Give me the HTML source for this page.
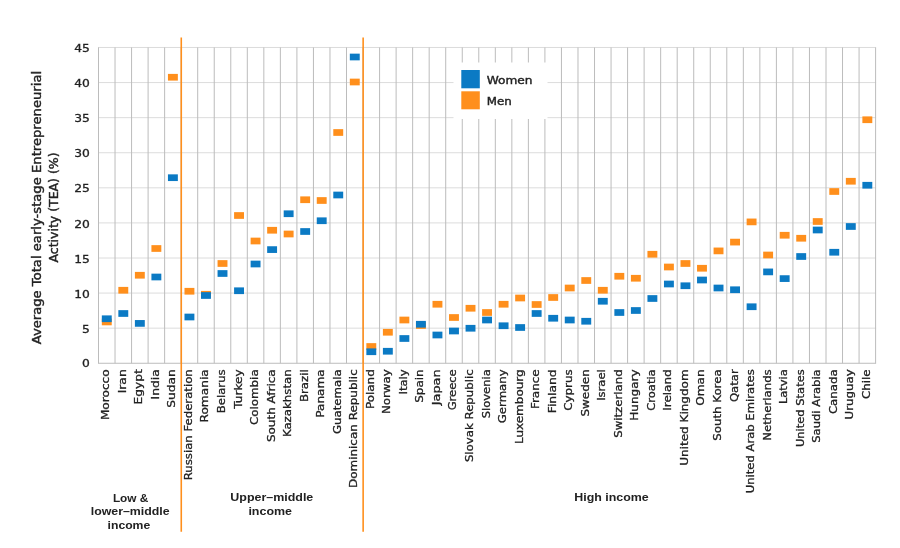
<!DOCTYPE html>
<html lang="en"><head><meta charset="utf-8"><title>TEA by gender</title>
<style>html,body{margin:0;padding:0;background:#fff}body{width:900px;height:548px;overflow:hidden}</style></head>
<body>
<svg width="900" height="548" viewBox="0 0 900 548" style="display:block">
<rect width="900" height="548" fill="#ffffff"/>
<g stroke="#dcdcdc" stroke-width="1" shape-rendering="auto">
<line x1="98.00" x2="876.10" y1="363.25" y2="363.25" stroke="#bcbcbc"/>
<line x1="98.00" x2="876.10" y1="328.17" y2="328.17"/>
<line x1="98.00" x2="876.10" y1="293.08" y2="293.08"/>
<line x1="98.00" x2="876.10" y1="258.00" y2="258.00"/>
<line x1="98.00" x2="876.10" y1="222.91" y2="222.91"/>
<line x1="98.00" x2="876.10" y1="187.82" y2="187.82"/>
<line x1="98.00" x2="876.10" y1="152.74" y2="152.74"/>
<line x1="98.00" x2="876.10" y1="117.66" y2="117.66"/>
<line x1="98.00" x2="876.10" y1="82.57" y2="82.57"/>
<line x1="98.00" x2="876.10" y1="47.48" y2="47.48"/>
</g>
<g stroke="#bcbcbc" stroke-width="1">
<line x1="98.50" x2="98.50" y1="47.48" y2="363.25"/>
<line x1="115.03" x2="115.03" y1="47.48" y2="363.25"/>
<line x1="131.57" x2="131.57" y1="47.48" y2="363.25"/>
<line x1="148.10" x2="148.10" y1="47.48" y2="363.25"/>
<line x1="164.64" x2="164.64" y1="47.48" y2="363.25"/>
<line x1="181.17" x2="181.17" y1="47.48" y2="363.25"/>
<line x1="197.70" x2="197.70" y1="47.48" y2="363.25"/>
<line x1="214.24" x2="214.24" y1="47.48" y2="363.25"/>
<line x1="230.77" x2="230.77" y1="47.48" y2="363.25"/>
<line x1="247.31" x2="247.31" y1="47.48" y2="363.25"/>
<line x1="263.84" x2="263.84" y1="47.48" y2="363.25"/>
<line x1="280.37" x2="280.37" y1="47.48" y2="363.25"/>
<line x1="296.91" x2="296.91" y1="47.48" y2="363.25"/>
<line x1="313.44" x2="313.44" y1="47.48" y2="363.25"/>
<line x1="329.98" x2="329.98" y1="47.48" y2="363.25"/>
<line x1="346.51" x2="346.51" y1="47.48" y2="363.25"/>
<line x1="363.04" x2="363.04" y1="47.48" y2="363.25"/>
<line x1="379.58" x2="379.58" y1="47.48" y2="363.25"/>
<line x1="396.11" x2="396.11" y1="47.48" y2="363.25"/>
<line x1="412.65" x2="412.65" y1="47.48" y2="363.25"/>
<line x1="429.18" x2="429.18" y1="47.48" y2="363.25"/>
<line x1="445.71" x2="445.71" y1="47.48" y2="363.25"/>
<line x1="462.25" x2="462.25" y1="47.48" y2="363.25"/>
<line x1="478.78" x2="478.78" y1="47.48" y2="363.25"/>
<line x1="495.32" x2="495.32" y1="47.48" y2="363.25"/>
<line x1="511.85" x2="511.85" y1="47.48" y2="363.25"/>
<line x1="528.39" x2="528.39" y1="47.48" y2="363.25"/>
<line x1="544.92" x2="544.92" y1="47.48" y2="363.25"/>
<line x1="561.45" x2="561.45" y1="47.48" y2="363.25"/>
<line x1="577.99" x2="577.99" y1="47.48" y2="363.25"/>
<line x1="594.52" x2="594.52" y1="47.48" y2="363.25"/>
<line x1="611.06" x2="611.06" y1="47.48" y2="363.25"/>
<line x1="627.59" x2="627.59" y1="47.48" y2="363.25"/>
<line x1="644.12" x2="644.12" y1="47.48" y2="363.25"/>
<line x1="660.66" x2="660.66" y1="47.48" y2="363.25"/>
<line x1="677.19" x2="677.19" y1="47.48" y2="363.25"/>
<line x1="693.73" x2="693.73" y1="47.48" y2="363.25"/>
<line x1="710.26" x2="710.26" y1="47.48" y2="363.25"/>
<line x1="726.79" x2="726.79" y1="47.48" y2="363.25"/>
<line x1="743.33" x2="743.33" y1="47.48" y2="363.25"/>
<line x1="759.86" x2="759.86" y1="47.48" y2="363.25"/>
<line x1="776.40" x2="776.40" y1="47.48" y2="363.25"/>
<line x1="792.93" x2="792.93" y1="47.48" y2="363.25"/>
<line x1="809.46" x2="809.46" y1="47.48" y2="363.25"/>
<line x1="826.00" x2="826.00" y1="47.48" y2="363.25"/>
<line x1="842.53" x2="842.53" y1="47.48" y2="363.25"/>
<line x1="859.07" x2="859.07" y1="47.48" y2="363.25"/>
<line x1="875.60" x2="875.60" y1="47.48" y2="363.25"/>
</g>
<rect x="453.5" y="62.5" width="94" height="56.5" fill="#ffffff"/>
<rect x="461.3" y="70" width="18.5" height="18.3" fill="#0b7ac4"/>
<rect x="461.3" y="91.3" width="18.5" height="18" fill="#ff8f1c"/>
<g font-family='"DejaVu Sans", "Liberation Sans", sans-serif' font-size="10.9" fill="#222222" stroke="#222222" stroke-width="0.4">
<text x="486.7" y="83.8" textLength="45.8" lengthAdjust="spacingAndGlyphs">Women</text><text x="486.7" y="104.7" textLength="25" lengthAdjust="spacingAndGlyphs">Men</text></g>
<g fill="#ff8f1c">
<rect x="101.82" y="318.60" width="9.9" height="6.7"/>
<rect x="118.35" y="286.90" width="9.9" height="6.7"/>
<rect x="134.89" y="271.90" width="9.9" height="6.7"/>
<rect x="151.42" y="245.15" width="9.9" height="6.7"/>
<rect x="167.95" y="73.90" width="9.9" height="6.7"/>
<rect x="184.49" y="287.90" width="9.9" height="6.7"/>
<rect x="201.02" y="290.90" width="9.9" height="6.7"/>
<rect x="217.56" y="260.15" width="9.9" height="6.7"/>
<rect x="234.09" y="212.15" width="9.9" height="6.7"/>
<rect x="250.62" y="237.65" width="9.9" height="6.7"/>
<rect x="267.16" y="226.90" width="9.9" height="6.7"/>
<rect x="283.69" y="230.65" width="9.9" height="6.7"/>
<rect x="300.23" y="196.40" width="9.9" height="6.7"/>
<rect x="316.76" y="197.15" width="9.9" height="6.7"/>
<rect x="333.29" y="129.15" width="9.9" height="6.7"/>
<rect x="349.83" y="78.65" width="9.9" height="6.7"/>
<rect x="366.36" y="343.15" width="9.9" height="6.7"/>
<rect x="382.90" y="328.90" width="9.9" height="6.7"/>
<rect x="399.43" y="316.65" width="9.9" height="6.7"/>
<rect x="415.96" y="322.15" width="9.9" height="6.7"/>
<rect x="432.50" y="300.90" width="9.9" height="6.7"/>
<rect x="449.03" y="314.15" width="9.9" height="6.7"/>
<rect x="465.57" y="304.90" width="9.9" height="6.7"/>
<rect x="482.10" y="309.15" width="9.9" height="6.7"/>
<rect x="498.63" y="300.90" width="9.9" height="6.7"/>
<rect x="515.17" y="294.65" width="9.9" height="6.7"/>
<rect x="531.70" y="301.15" width="9.9" height="6.7"/>
<rect x="548.24" y="294.15" width="9.9" height="6.7"/>
<rect x="564.77" y="284.65" width="9.9" height="6.7"/>
<rect x="581.30" y="277.15" width="9.9" height="6.7"/>
<rect x="597.84" y="286.90" width="9.9" height="6.7"/>
<rect x="614.37" y="272.90" width="9.9" height="6.7"/>
<rect x="630.91" y="274.90" width="9.9" height="6.7"/>
<rect x="647.44" y="250.90" width="9.9" height="6.7"/>
<rect x="663.97" y="263.65" width="9.9" height="6.7"/>
<rect x="680.51" y="260.15" width="9.9" height="6.7"/>
<rect x="697.04" y="264.90" width="9.9" height="6.7"/>
<rect x="713.58" y="247.55" width="9.9" height="6.7"/>
<rect x="730.11" y="238.75" width="9.9" height="6.7"/>
<rect x="746.64" y="218.55" width="9.9" height="6.7"/>
<rect x="763.18" y="251.65" width="9.9" height="6.7"/>
<rect x="779.71" y="231.90" width="9.9" height="6.7"/>
<rect x="796.25" y="234.90" width="9.9" height="6.7"/>
<rect x="812.78" y="218.15" width="9.9" height="6.7"/>
<rect x="829.31" y="188.15" width="9.9" height="6.7"/>
<rect x="845.85" y="177.90" width="9.9" height="6.7"/>
<rect x="862.38" y="116.40" width="9.9" height="6.7"/>
</g>
<g fill="#0b7ac4">
<rect x="101.82" y="315.40" width="9.9" height="6.7"/>
<rect x="118.35" y="310.15" width="9.9" height="6.7"/>
<rect x="134.89" y="320.05" width="9.9" height="6.7"/>
<rect x="151.42" y="273.65" width="9.9" height="6.7"/>
<rect x="167.95" y="174.35" width="9.9" height="6.7"/>
<rect x="184.49" y="313.65" width="9.9" height="6.7"/>
<rect x="201.02" y="292.15" width="9.9" height="6.7"/>
<rect x="217.56" y="270.15" width="9.9" height="6.7"/>
<rect x="234.09" y="287.40" width="9.9" height="6.7"/>
<rect x="250.62" y="260.65" width="9.9" height="6.7"/>
<rect x="267.16" y="246.25" width="9.9" height="6.7"/>
<rect x="283.69" y="210.40" width="9.9" height="6.7"/>
<rect x="300.23" y="228.15" width="9.9" height="6.7"/>
<rect x="316.76" y="217.40" width="9.9" height="6.7"/>
<rect x="333.29" y="191.65" width="9.9" height="6.7"/>
<rect x="349.83" y="53.65" width="9.9" height="6.7"/>
<rect x="366.36" y="348.40" width="9.9" height="6.7"/>
<rect x="382.90" y="347.90" width="9.9" height="6.7"/>
<rect x="399.43" y="335.15" width="9.9" height="6.7"/>
<rect x="415.96" y="320.90" width="9.9" height="6.7"/>
<rect x="432.50" y="331.65" width="9.9" height="6.7"/>
<rect x="449.03" y="327.65" width="9.9" height="6.7"/>
<rect x="465.57" y="324.90" width="9.9" height="6.7"/>
<rect x="482.10" y="316.65" width="9.9" height="6.7"/>
<rect x="498.63" y="322.40" width="9.9" height="6.7"/>
<rect x="515.17" y="324.15" width="9.9" height="6.7"/>
<rect x="531.70" y="310.15" width="9.9" height="6.7"/>
<rect x="548.24" y="314.90" width="9.9" height="6.7"/>
<rect x="564.77" y="316.65" width="9.9" height="6.7"/>
<rect x="581.30" y="317.90" width="9.9" height="6.7"/>
<rect x="597.84" y="297.90" width="9.9" height="6.7"/>
<rect x="614.37" y="309.15" width="9.9" height="6.7"/>
<rect x="630.91" y="307.15" width="9.9" height="6.7"/>
<rect x="647.44" y="295.15" width="9.9" height="6.7"/>
<rect x="663.97" y="280.65" width="9.9" height="6.7"/>
<rect x="680.51" y="282.40" width="9.9" height="6.7"/>
<rect x="697.04" y="276.65" width="9.9" height="6.7"/>
<rect x="713.58" y="284.65" width="9.9" height="6.7"/>
<rect x="730.11" y="286.40" width="9.9" height="6.7"/>
<rect x="746.64" y="303.40" width="9.9" height="6.7"/>
<rect x="763.18" y="268.55" width="9.9" height="6.7"/>
<rect x="779.71" y="275.25" width="9.9" height="6.7"/>
<rect x="796.25" y="253.15" width="9.9" height="6.7"/>
<rect x="812.78" y="226.65" width="9.9" height="6.7"/>
<rect x="829.31" y="248.90" width="9.9" height="6.7"/>
<rect x="845.85" y="223.15" width="9.9" height="6.7"/>
<rect x="862.38" y="181.90" width="9.9" height="6.7"/>
</g>
<line x1="181.27" x2="181.27" y1="37.6" y2="531.8" stroke="#ff8f1c" stroke-width="1.6"/>
<line x1="363.14" x2="363.14" y1="37.6" y2="531.8" stroke="#ff8f1c" stroke-width="1.6"/>
<g font-family='"DejaVu Sans", "Liberation Sans", sans-serif' font-size="11.1" fill="#222222" stroke="#222222" stroke-width="0.3" text-anchor="end">
<text x="89.8" y="366.55" textLength="7.8" lengthAdjust="spacingAndGlyphs">0</text>
<text x="89.8" y="332.77" textLength="7.8" lengthAdjust="spacingAndGlyphs">5</text>
<text x="89.8" y="297.68" textLength="15.6" lengthAdjust="spacingAndGlyphs">10</text>
<text x="89.8" y="262.60" textLength="15.6" lengthAdjust="spacingAndGlyphs">15</text>
<text x="89.8" y="227.51" textLength="15.6" lengthAdjust="spacingAndGlyphs">20</text>
<text x="89.8" y="192.42" textLength="15.6" lengthAdjust="spacingAndGlyphs">25</text>
<text x="89.8" y="157.34" textLength="15.6" lengthAdjust="spacingAndGlyphs">30</text>
<text x="89.8" y="122.25" textLength="15.6" lengthAdjust="spacingAndGlyphs">35</text>
<text x="89.8" y="87.17" textLength="15.6" lengthAdjust="spacingAndGlyphs">40</text>
<text x="89.8" y="52.08" textLength="15.6" lengthAdjust="spacingAndGlyphs">45</text>
</g>
<g font-family='"DejaVu Sans", "Liberation Sans", sans-serif' font-size="10.8" fill="#222222" stroke="#222222" stroke-width="0.3" text-anchor="end">
<text transform="translate(109.27,369.3) rotate(-90)" textLength="50.8" lengthAdjust="spacingAndGlyphs">Morocco</text>
<text transform="translate(125.80,369.3) rotate(-90)" textLength="24.0" lengthAdjust="spacingAndGlyphs">Iran</text>
<text transform="translate(142.34,369.3) rotate(-90)" textLength="35.2" lengthAdjust="spacingAndGlyphs">Egypt</text>
<text transform="translate(158.87,369.3) rotate(-90)" textLength="30.2" lengthAdjust="spacingAndGlyphs">India</text>
<text transform="translate(175.40,369.3) rotate(-90)" textLength="38.5" lengthAdjust="spacingAndGlyphs">Sudan</text>
<text transform="translate(191.94,369.3) rotate(-90)" textLength="111.0" lengthAdjust="spacingAndGlyphs">Russian Federation</text>
<text transform="translate(208.47,369.3) rotate(-90)" textLength="53.2" lengthAdjust="spacingAndGlyphs">Romania</text>
<text transform="translate(225.01,369.3) rotate(-90)" textLength="44.0" lengthAdjust="spacingAndGlyphs">Belarus</text>
<text transform="translate(241.54,369.3) rotate(-90)" textLength="39.5" lengthAdjust="spacingAndGlyphs">Turkey</text>
<text transform="translate(258.07,369.3) rotate(-90)" textLength="55.8" lengthAdjust="spacingAndGlyphs">Colombia</text>
<text transform="translate(274.61,369.3) rotate(-90)" textLength="72.8" lengthAdjust="spacingAndGlyphs">South Africa</text>
<text transform="translate(291.14,369.3) rotate(-90)" textLength="67.8" lengthAdjust="spacingAndGlyphs">Kazakhstan</text>
<text transform="translate(307.68,369.3) rotate(-90)" textLength="32.8" lengthAdjust="spacingAndGlyphs">Brazil</text>
<text transform="translate(324.21,369.3) rotate(-90)" textLength="48.5" lengthAdjust="spacingAndGlyphs">Panama</text>
<text transform="translate(340.74,369.3) rotate(-90)" textLength="64.8" lengthAdjust="spacingAndGlyphs">Guatemala</text>
<text transform="translate(357.28,369.3) rotate(-90)" textLength="118.7" lengthAdjust="spacingAndGlyphs">Dominican Republic</text>
<text transform="translate(373.81,369.3) rotate(-90)" textLength="39.8" lengthAdjust="spacingAndGlyphs">Poland</text>
<text transform="translate(390.35,369.3) rotate(-90)" textLength="44.8" lengthAdjust="spacingAndGlyphs">Norway</text>
<text transform="translate(406.88,369.3) rotate(-90)" textLength="25.2" lengthAdjust="spacingAndGlyphs">Italy</text>
<text transform="translate(423.41,369.3) rotate(-90)" textLength="33.5" lengthAdjust="spacingAndGlyphs">Spain</text>
<text transform="translate(439.95,369.3) rotate(-90)" textLength="36.0" lengthAdjust="spacingAndGlyphs">Japan</text>
<text transform="translate(456.48,369.3) rotate(-90)" textLength="41.0" lengthAdjust="spacingAndGlyphs">Greece</text>
<text transform="translate(473.02,369.3) rotate(-90)" textLength="92.8" lengthAdjust="spacingAndGlyphs">Slovak Republic</text>
<text transform="translate(489.55,369.3) rotate(-90)" textLength="49.0" lengthAdjust="spacingAndGlyphs">Slovenia</text>
<text transform="translate(506.08,369.3) rotate(-90)" textLength="54.0" lengthAdjust="spacingAndGlyphs">Germany</text>
<text transform="translate(522.62,369.3) rotate(-90)" textLength="74.8" lengthAdjust="spacingAndGlyphs">Luxembourg</text>
<text transform="translate(539.15,369.3) rotate(-90)" textLength="39.8" lengthAdjust="spacingAndGlyphs">France</text>
<text transform="translate(555.69,369.3) rotate(-90)" textLength="44.0" lengthAdjust="spacingAndGlyphs">Finland</text>
<text transform="translate(572.22,369.3) rotate(-90)" textLength="41.5" lengthAdjust="spacingAndGlyphs">Cyprus</text>
<text transform="translate(588.75,369.3) rotate(-90)" textLength="47.2" lengthAdjust="spacingAndGlyphs">Sweden</text>
<text transform="translate(605.29,369.3) rotate(-90)" textLength="31.5" lengthAdjust="spacingAndGlyphs">Israel</text>
<text transform="translate(621.82,369.3) rotate(-90)" textLength="68.5" lengthAdjust="spacingAndGlyphs">Switzerland</text>
<text transform="translate(638.36,369.3) rotate(-90)" textLength="51.5" lengthAdjust="spacingAndGlyphs">Hungary</text>
<text transform="translate(654.89,369.3) rotate(-90)" textLength="41.5" lengthAdjust="spacingAndGlyphs">Croatia</text>
<text transform="translate(671.42,369.3) rotate(-90)" textLength="41.5" lengthAdjust="spacingAndGlyphs">Ireland</text>
<text transform="translate(687.96,369.3) rotate(-90)" textLength="96.5" lengthAdjust="spacingAndGlyphs">United Kingdom</text>
<text transform="translate(704.49,369.3) rotate(-90)" textLength="36.5" lengthAdjust="spacingAndGlyphs">Oman</text>
<text transform="translate(721.03,369.3) rotate(-90)" textLength="71.5" lengthAdjust="spacingAndGlyphs">South Korea</text>
<text transform="translate(737.56,369.3) rotate(-90)" textLength="32.8" lengthAdjust="spacingAndGlyphs">Qatar</text>
<text transform="translate(754.09,369.3) rotate(-90)" textLength="124.0" lengthAdjust="spacingAndGlyphs">United Arab Emirates</text>
<text transform="translate(770.63,369.3) rotate(-90)" textLength="71.5" lengthAdjust="spacingAndGlyphs">Netherlands</text>
<text transform="translate(787.16,369.3) rotate(-90)" textLength="34.8" lengthAdjust="spacingAndGlyphs">Latvia</text>
<text transform="translate(803.70,369.3) rotate(-90)" textLength="77.8" lengthAdjust="spacingAndGlyphs">United States</text>
<text transform="translate(820.23,369.3) rotate(-90)" textLength="73.5" lengthAdjust="spacingAndGlyphs">Saudi Arabia</text>
<text transform="translate(836.76,369.3) rotate(-90)" textLength="44.8" lengthAdjust="spacingAndGlyphs">Canada</text>
<text transform="translate(853.30,369.3) rotate(-90)" textLength="50.2" lengthAdjust="spacingAndGlyphs">Uruguay</text>
<text transform="translate(869.83,369.3) rotate(-90)" textLength="29.8" lengthAdjust="spacingAndGlyphs">Chile</text>
</g>
<g font-family='"DejaVu Sans", "Liberation Sans", sans-serif' font-size="11.8" fill="#222222" stroke="#222222" stroke-width="0.4" text-anchor="middle">
<text transform="translate(41,207.6) rotate(-90)" textLength="273.5" lengthAdjust="spacingAndGlyphs">Average Total early-stage Entrepreneurial</text>
<text transform="translate(57.8,207.5) rotate(-90)" textLength="110" lengthAdjust="spacingAndGlyphs">Activity (TEA) (%)</text>
</g>
<g font-family='"Liberation Sans", "DejaVu Sans", sans-serif' font-size="10.8" font-weight="bold" fill="#222222" text-anchor="middle">
<text x="130.6" y="501.7" textLength="35.4" lengthAdjust="spacingAndGlyphs">Low &amp;</text>
<text x="130.2" y="515.1" textLength="78.9" lengthAdjust="spacingAndGlyphs">lower–middle</text>
<text x="128.9" y="528.7" textLength="42.7" lengthAdjust="spacingAndGlyphs">income</text>
<text x="271.8" y="500.8" textLength="83" lengthAdjust="spacingAndGlyphs">Upper–middle</text>
<text x="270.2" y="514.6" textLength="43.6" lengthAdjust="spacingAndGlyphs">income</text>
<text x="611.5" y="500.8" textLength="74.5" lengthAdjust="spacingAndGlyphs">High income</text>
</g>
</svg>
</body></html>
